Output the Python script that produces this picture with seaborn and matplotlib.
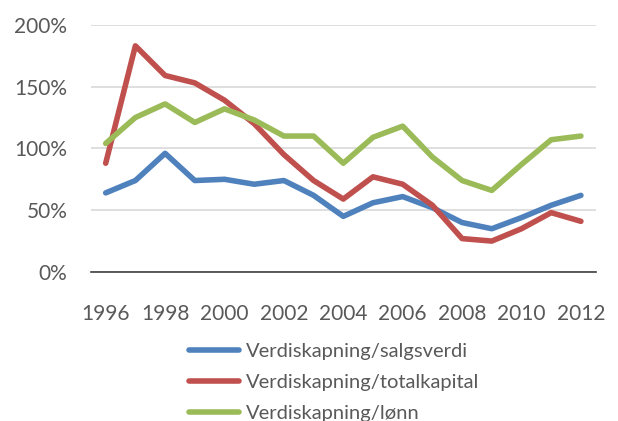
import matplotlib
matplotlib.use("Agg")
import matplotlib.pyplot as plt
import pandas as pd
import seaborn as sns

# Data (in %)
years = list(range(1996, 2013))
salgsverdi = [64, 74, 96, 74, 75, 71, 74, 62, 45, 56, 61, 52, 40, 35, 44, 54, 62]
totalkapital = [88, 183, 159, 153, 139, 120, 95, 74, 59, 77, 71, 54, 27, 25, 35, 48, 41]
lonn = [104, 125, 136, 121, 132, 123, 110, 110, 88, 109, 118, 93, 74, 66, 87, 107, 110]

series_names = ["Verdiskapning/salgsverdi", "Verdiskapning/totalkapital", "Verdiskapning/lønn"]
colors = ["#4F81BD", "#C0504D", "#9BBB59"]

df = pd.DataFrame({
    "År": years * 3,
    "Verdi": salgsverdi + totalkapital + lonn,
    "Serie": [series_names[0]] * len(years) + [series_names[1]] * len(years) + [series_names[2]] * len(years),
})

sns.set_style("white")
plt.rcParams["font.family"] = ["Lato", "DejaVu Sans"]

fig = plt.figure(figsize=(6.18, 4.21), dpi=100)
ax = fig.add_axes([0.147, 0.354, 0.817, 0.587])

sns.lineplot(data=df, x="År", y="Verdi", hue="Serie", palette=colors,
             linewidth=4, ax=ax, legend=False)

ax.set_xlim(1995.5, 2012.5)
ax.set_ylim(0, 200)
ax.set_yticks([0, 50, 100, 150, 200])
ax.set_yticklabels([f"{v}%" for v in [0, 50, 100, 150, 200]])
ax.set_xticks(years[::2])
ax.set_xticklabels([str(y) for y in years[::2]])
ax.set_xlabel("")
ax.set_ylabel("")

ax.grid(axis="y", color="#D9D9D9", linewidth=1.2)
ax.set_axisbelow(True)
for side in ["top", "right", "left"]:
    ax.spines[side].set_visible(False)
ax.spines["bottom"].set_color("#404040")
ax.spines["bottom"].set_linewidth(1.2)
ax.tick_params(axis="both", length=0, labelsize=15, labelcolor="#595959")
ax.tick_params(axis="x", pad=23)
ax.tick_params(axis="y", pad=17)

handles = [plt.Line2D([], [], color=c, linewidth=4) for c in colors]
fig.legend(handles, series_names, loc="upper left", bbox_to_anchor=(0.306, 0.185),
           frameon=False, fontsize=14.5, labelcolor="#595959", handlelength=2.5,
           handletextpad=0.3, labelspacing=0.68, borderpad=0, borderaxespad=0)

fig.savefig("out.png", dpi=100)
